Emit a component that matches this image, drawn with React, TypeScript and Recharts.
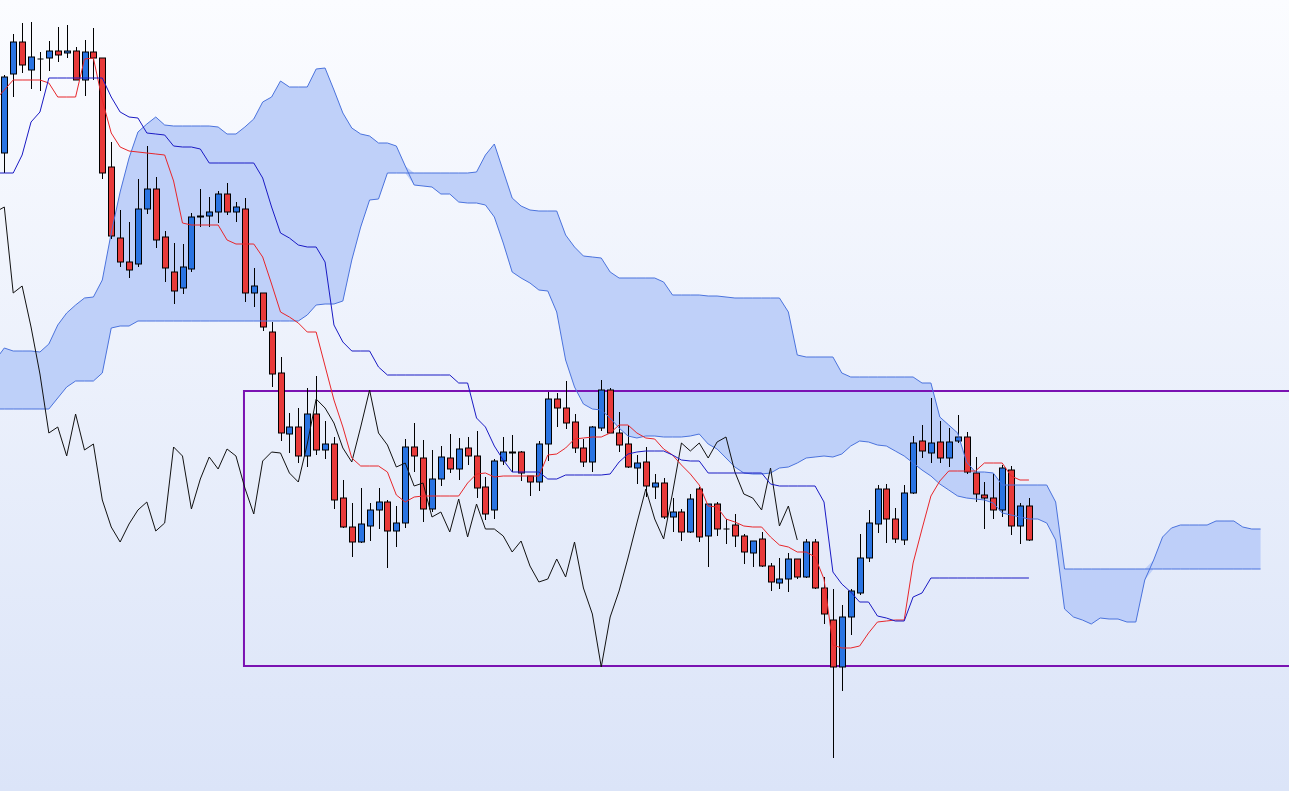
import React from "react";
import { ComposedChart, XAxis, YAxis, Area, Line, Bar, ReferenceArea } from "recharts";

// candles, index 0..115 (price units)
const opens = [
  647, 726, 758, 730, 741, 742, 749, 747, 749, 720,
  748, 742, 633, 562, 538, 536, 591, 611, 563, 528,
  512, 531, 583, 584, 588, 606, 588, 591, 507, 507,
  468, 427, 366, 373, 344, 386, 350, 356, 302, 273,
  258, 274, 290, 298, 269, 277, 353, 342, 291, 321,
  342, 331, 352, 344, 313, 290, 339, 348, 348, 324,
  318, 356, 401, 392, 378, 352, 338, 372, 410, 367,
  356, 332, 338, 313, 317, 283, 288, 268, 311, 264,
  296, 271, 275, 264, 247, 261, 234, 217, 221, 241,
  223, 258, 212, 180, 133, 183, 207, 242, 276, 311,
  281, 260, 307, 359, 347, 358, 342, 359, 363, 327,
  305, 302, 290, 330, 274, 294,
];
const highs = [
  725, 766, 777, 778, 748, 759, 773, 775, 753, 760,
  772, 742, 658, 590, 578, 621, 654, 623, 569, 557,
  556, 587, 611, 603, 609, 617, 598, 602, 532, 507,
  478, 443, 387, 392, 412, 424, 379, 363, 320, 297,
  312, 297, 312, 300, 294, 361, 377, 360, 350, 354,
  366, 362, 363, 369, 323, 341, 363, 365, 349, 324,
  359, 408, 407, 419, 386, 361, 374, 420, 412, 388,
  375, 345, 353, 326, 322, 302, 291, 306, 313, 296,
  298, 281, 286, 266, 259, 268, 237, 242, 247, 241,
  261, 261, 223, 211, 195, 211, 266, 290, 315, 316,
  292, 315, 364, 375, 402, 379, 372, 385, 368, 343,
  318, 326, 335, 334, 297, 302,
];
const lows = [
  627, 703, 727, 711, 709, 729, 738, 742, 720, 704,
  720, 621, 561, 533, 522, 533, 586, 552, 518, 496,
  506, 528, 573, 573, 577, 585, 578, 498, 493, 469,
  413, 359, 347, 337, 333, 345, 341, 291, 272, 243,
  257, 259, 271, 232, 253, 272, 328, 278, 288, 314,
  327, 320, 335, 302, 280, 281, 335, 328, 319, 304,
  309, 339, 373, 371, 347, 333, 328, 369, 367, 348,
  332, 316, 303, 301, 281, 268, 259, 267, 258, 233,
  264, 256, 253, 236, 233, 233, 209, 211, 208, 221,
  222, 211, 176, 42, 109, 165, 205, 238, 267, 257,
  257, 255, 306, 342, 337, 337, 333, 357, 326, 298,
  271, 281, 283, 265, 256, 259,
];
const closes = [
  723, 758, 735, 743, 741, 749, 745, 749, 720, 748,
  742, 627, 564, 538, 530, 591, 611, 560, 532, 509,
  533, 583, 584, 588, 606, 588, 593, 507, 514, 473,
  426, 367, 373, 344, 386, 350, 356, 300, 273, 258,
  276, 290, 298, 269, 277, 353, 344, 291, 321, 343,
  331, 351, 344, 312, 286, 339, 348, 347, 327, 318,
  356, 401, 392, 377, 352, 338, 373, 410, 367, 355,
  333, 337, 314, 317, 283, 288, 268, 301, 263, 296,
  271, 271, 264, 248, 259, 234, 218, 221, 241, 223,
  258, 212, 186, 133, 183, 209, 242, 277, 311, 281,
  261, 307, 357, 349, 357, 342, 358, 363, 328, 306,
  302, 290, 332, 274, 294, 260,
];

// conversion line (tenkan-sen), index -1..115
const tenkan = [
  700,
  710, 720, 720, 720, 720, 717, 703, 703, 703, 741,
  742, 700, 667, 653, 649, 648, 647, 646, 645, 619,
  577, 575, 575, 575, 575, 560, 556, 556, 556, 543,
  516, 488, 483, 477, 468, 468, 434, 400, 373, 342,
  334, 334, 334, 328, 305, 298, 303, 304, 304, 304,
  304, 304, 317, 326, 327, 323, 324, 324, 324, 324,
  324, 345, 346, 352, 361, 362, 363, 363, 367, 375,
  375, 367, 362, 361, 351, 345, 335, 326, 315, 294,
  293, 281, 278, 274, 273, 273, 263, 255, 253, 248,
  248, 243, 221, 155, 152, 152, 154, 167, 178, 179,
  180, 180, 237, 271, 304, 319, 329, 329, 329, 329,
  337, 337, 337, 324, 320, 320,
];

// base line (kijun-sen), index -1..115
const kijun = [
  627,
  627, 627, 645, 678, 688, 722, 722, 722, 722, 722,
  722, 722, 703, 688, 683, 682, 667, 666, 665, 654,
  653, 653, 651, 637, 637, 637, 637, 637, 637, 622,
  593, 567, 562, 555, 553, 553, 538, 475, 458, 449,
  449, 449, 433, 425, 425, 425, 425, 425, 425, 425,
  425, 417, 417, 382, 373, 354, 340, 328, 328, 328,
  328, 321, 321, 325, 325, 325, 325, 325, 326, 338,
  346, 348, 349, 349, 349, 345, 340, 339, 339, 327,
  327, 327, 327, 327, 327, 327, 316, 314, 314, 314,
  314, 314, 298, 228, 216, 208, 198, 198, 184, 182,
  179, 179, 203, 207, 222, 222, 222, 222, 222, 222,
  222, 222, 222, 222, 222, 222,
];

// leading spans, index -1..141
const senkouA = [
  440,
  452, 449, 449, 449, 448, 456, 475, 487, 495, 502,
  503, 520, 567, 608, 642, 668, 676, 683, 675, 674,
  674, 674, 674, 674, 673, 666, 666, 673, 681, 698,
  703, 719, 713, 713, 713, 731, 732, 710, 687, 672,
  666, 664, 657, 657, 654, 634, 615, 614, 613, 606,
  606, 598, 597, 597, 595, 583, 557, 528, 522, 517,
  510, 509, 488, 440, 413, 396, 391, 390, 382, 372,
  364, 362, 364, 364, 363, 363, 363, 364, 366, 356,
  351, 342, 333, 327, 326, 326, 327, 332, 333, 337,
  342, 343, 344, 343, 346, 354, 359, 358, 355, 354,
  349, 344, 337, 330, 324, 316, 310, 304, 302, 301,
  300, 297, 287, 285, 283, 281, 281, 277, 260, 191,
  183, 180, 176, 182, 181, 181, 178, 178, 220, 240,
  263, 272, 275, 275, 275, 275, 279, 279, 279, 273,
  271, 271,
];
const senkouB = [
  391,
  391, 391, 391, 391, 391, 391, 402, 413, 419, 419,
  419, 427, 472, 474, 474, 479, 479, 479, 479, 479,
  479, 479, 479, 479, 479, 479, 479, 479, 479, 479,
  479, 479, 479, 479, 485, 495, 496, 496, 499, 540,
  573, 600, 601, 627, 627, 627, 627, 627, 627, 627,
  627, 627, 627, 628, 645, 656, 629, 602, 594, 590,
  589, 589, 589, 565, 553, 544, 543, 542, 528, 522,
  522, 522, 522, 522, 518, 505, 505, 505, 505, 504,
  504, 503, 502, 502, 502, 502, 502, 502, 488, 445,
  443, 443, 443, 443, 427, 423, 423, 423, 423, 423,
  423, 423, 423, 417, 417, 383, 375, 367, 338, 328,
  328, 327, 315, 315, 315, 315, 315, 315, 298, 231,
  231, 231, 231, 231, 231, 231, 231, 231, 231, 231,
  231, 231, 231, 231, 231, 231, 231, 231, 231, 231,
  231, 231,
];

// lagging span (chikou), index -1..89
const chikou = [
  588, 593, 507, 514, 473,
  426, 367, 373, 344, 386, 350, 356, 300, 273, 258,
  276, 290, 298, 269, 277, 353, 344, 291, 321, 343,
  331, 351, 344, 312, 286, 339, 348, 347, 327, 318,
  356, 401, 392, 377, 352, 338, 373, 410, 367, 355,
  333, 337, 314, 317, 283, 288, 268, 301, 263, 296,
  271, 271, 264, 248, 259, 234, 218, 221, 241, 223,
  258, 212, 186, 133, 183, 209, 242, 277, 311, 281,
  261, 307, 357, 349, 357, 342, 358, 363, 328, 306,
  302, 290, 332, 274, 294, 260,
];

const FIRST_INDEX = -1;
const BOX_FROM = 26.9;
const BOX_HIGH = 409;
const BOX_LOW = 134;

const rows = senkouA.map((a, k) => {
  const i = k + FIRST_INDEX;
  const b = senkouB[k];
  const has = i >= 0 && i < closes.length;
  return {
    i,
    senkouA: a,
    senkouB: b,
    cloud: [Math.min(a, b), Math.max(a, b)],
    chikou: k < chikou.length ? chikou[k] : null,
    tenkan: k < tenkan.length ? tenkan[k] : null,
    kijun: k < kijun.length ? kijun[k] : null,
    open: has ? opens[i] : null,
    high: has ? highs[i] : null,
    low: has ? lows[i] : null,
    close: has ? closes[i] : null,
    range: has ? [lows[i], highs[i]] : null,
  };
});

const Candle = (props: any) => {
  const { x, y, width, height, payload } = props;
  if (!payload || payload.open == null) return null;
  const { open, close, high, low } = payload;
  const top = Math.min(y, y + height);
  const h = Math.abs(height);
  const perUnit = high === low ? 0 : h / (high - low);
  const yOf = (v: number) => top + (high - v) * perUnit;
  const cx = Math.round(x + width / 2) + 0.5;
  const up = close > open;
  const bTop = yOf(Math.max(open, close));
  const bBot = yOf(Math.min(open, close));
  const bw = 6;
  return (
    <g>
      <line x1={cx} x2={cx} y1={top} y2={top + h} stroke="#000" strokeWidth={1} />
      {open === close ? (
        <line x1={cx - bw / 2} x2={cx + bw / 2} y1={bTop} y2={bTop} stroke="#000" strokeWidth={1} />
      ) : (
        <rect
          x={cx - bw / 2}
          y={bTop}
          width={bw}
          height={Math.max(1, bBot - bTop)}
          fill={up ? "#2a74e2" : "#e83a3a"}
          stroke="#000"
          strokeWidth={1}
        />
      )}
    </g>
  );
};

export default function App() {
  return (
    <div
      style={{
        position: "absolute",
        left: 0,
        top: 0,
        width: 1289,
        height: 791,
        overflow: "hidden",
        background: "linear-gradient(to bottom, #fbfcff 0%, #dbe4f8 100%)",
      }}
    >
      <ComposedChart width={1289} height={791} data={rows} margin={{ top: 0, right: 0, bottom: 0, left: 0 }}>
        <XAxis type="number" dataKey="i" domain={[-0.483, 144.19]} hide allowDataOverflow />
        <YAxis type="number" domain={[9, 800]} hide allowDataOverflow />
        <Area dataKey="cloud" stroke="none" fill="#bccdf9" fillOpacity={0.95} dot={false} activeDot={false} isAnimationActive={false} />
        <Line dataKey="senkouA" stroke="#4b73dd" strokeWidth={1} dot={false} activeDot={false} isAnimationActive={false} />
        <Line dataKey="senkouB" stroke="#4b73dd" strokeWidth={1} dot={false} activeDot={false} isAnimationActive={false} />
        <Line dataKey="chikou" stroke="#111" strokeWidth={1} dot={false} activeDot={false} isAnimationActive={false} />
        <Bar dataKey="range" barSize={7} shape={Candle} activeBar={false} isAnimationActive={false} />
        <Line dataKey="tenkan" stroke="#e8262a" strokeWidth={1} dot={false} activeDot={false} isAnimationActive={false} />
        <Line dataKey="kijun" stroke="#1a1ac4" strokeWidth={1} dot={false} activeDot={false} isAnimationActive={false} />
        <ReferenceArea
          x1={BOX_FROM}
          x2={150}
          y1={BOX_LOW}
          y2={BOX_HIGH}
          fill="none"
          stroke="#7a12b2"
          strokeWidth={2}
          ifOverflow="hidden"
        />
      </ComposedChart>
    </div>
  );
}
